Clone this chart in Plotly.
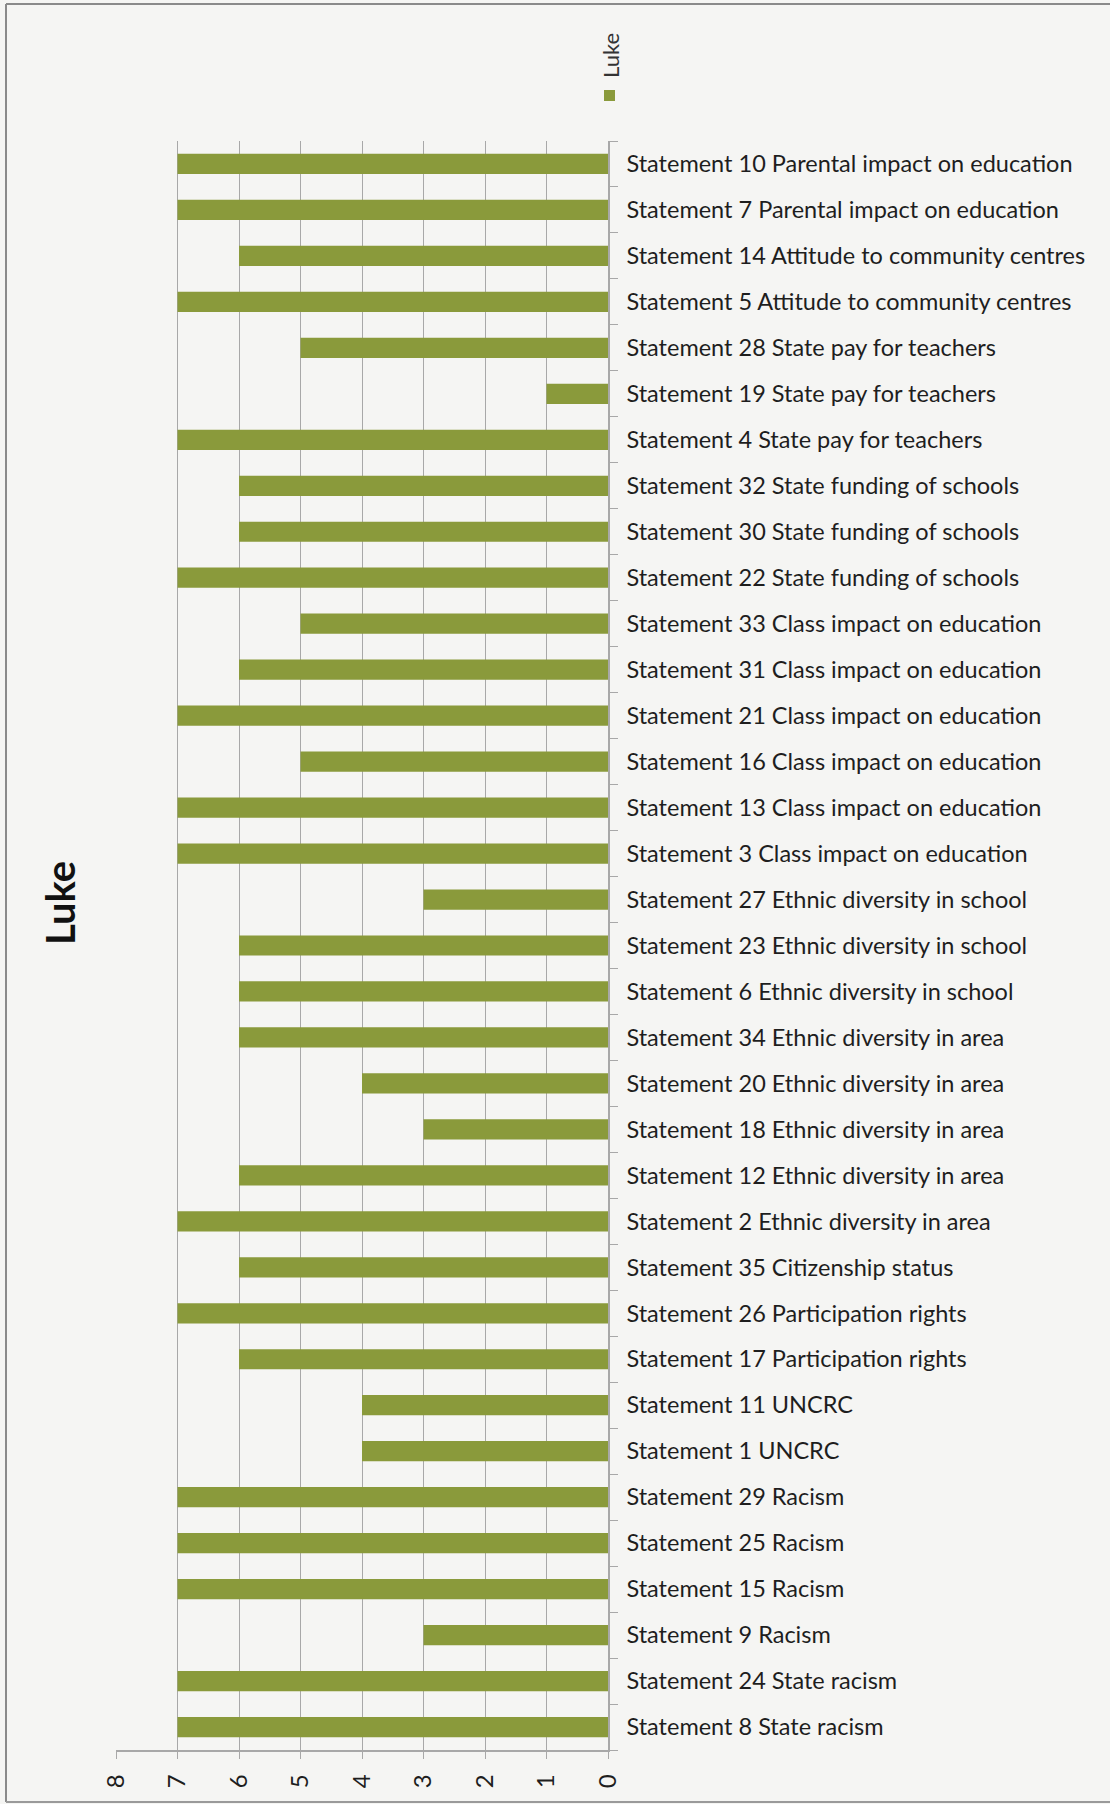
import plotly.graph_objects as go

# Statements in chart order (bottom to top) and Luke's scores
statements = [
    "Statement 8 State racism",
    "Statement 24 State racism",
    "Statement 9 Racism",
    "Statement 15 Racism",
    "Statement 25 Racism",
    "Statement 29 Racism",
    "Statement 1 UNCRC",
    "Statement 11 UNCRC",
    "Statement 17 Participation rights",
    "Statement 26 Participation rights",
    "Statement 35 Citizenship status",
    "Statement 2 Ethnic diversity in area",
    "Statement 12 Ethnic diversity in area",
    "Statement 18 Ethnic diversity in area",
    "Statement 20 Ethnic diversity in area",
    "Statement 34 Ethnic diversity in area",
    "Statement 6 Ethnic diversity in school",
    "Statement 23 Ethnic diversity in school",
    "Statement 27 Ethnic diversity in school",
    "Statement 3 Class impact on education",
    "Statement 13 Class impact on education",
    "Statement 16 Class impact on education",
    "Statement 21 Class impact on education",
    "Statement 31 Class impact on education",
    "Statement 33 Class impact on education",
    "Statement 22 State funding of schools",
    "Statement 30 State funding of schools",
    "Statement 32 State funding of schools",
    "Statement 4 State pay for teachers",
    "Statement 19 State pay for teachers",
    "Statement 28 State pay for teachers",
    "Statement 5 Attitude to community centres",
    "Statement 14 Attitude to community centres",
    "Statement 7 Parental impact on education",
    "Statement 10 Parental impact on education",
]
luke_scores = [7, 7, 3, 7, 7, 7, 4, 4, 6, 7, 6, 7, 6, 3, 4, 6, 6, 6, 3,
               7, 7, 5, 7, 6, 5, 7, 6, 6, 7, 1, 5, 7, 6, 7, 7]
value_ticks = [0, 1, 2, 3, 4, 5, 6, 7, 8]

W, H = 1110, 1804
L, R, T, B = 116, 502, 141, 54
PW, PH = W - L - R, H - T - B

BAR = "#8a9a3b"
GRID = "#a8a8a8"
TEXT = "#1e1e1e"
BG = "#f5f5f3"


def px(x):
    return (x - L) / PW


def py(y):
    return (H - B - y) / PH


fig = go.Figure(
    go.Bar(
        x=luke_scores,
        y=statements,
        orientation="h",
        marker=dict(color=BAR, line=dict(width=0)),
        name="Luke",
        showlegend=False,
    )
)

fig.update_layout(
    width=W,
    height=H,
    margin=dict(l=L, r=R, t=T, b=B),
    paper_bgcolor=BG,
    plot_bgcolor=BG,
    bargap=0.56,
    font=dict(family="Lato", color=TEXT),
    xaxis=dict(
        range=[8, 0],
        tickvals=value_ticks,
        tickangle=-90,
        tickfont=dict(size=24, color=TEXT),
        showgrid=True,
        gridcolor=GRID,
        gridwidth=1,
        showline=True,
        linecolor=GRID,
        linewidth=1.5,
        ticks="outside",
        ticklen=7,
        tickcolor=GRID,
        ticklabelstandoff=6,
        zeroline=False,
        fixedrange=True,
    ),
    yaxis=dict(
        side="right",
        categoryorder="array",
        categoryarray=statements,
        tickfont=dict(size=23.5, color=TEXT),
        showline=True,
        linecolor=GRID,
        linewidth=1.5,
        ticks="outside",
        tickson="boundaries",
        ticklen=8,
        tickcolor=GRID,
        ticklabelstandoff=12,
        showgrid=False,
        fixedrange=True,
    ),
    annotations=[
        dict(
            text="<b>Luke</b>",
            x=px(60), y=py(903), xref="paper", yref="paper",
            xanchor="center", yanchor="middle",
            showarrow=False, textangle=-90,
            font=dict(size=40, color="#111111", family="Lato"),
        ),
        dict(
            text="Luke",
            x=px(610), y=py(56), xref="paper", yref="paper",
            xanchor="center", yanchor="middle",
            showarrow=False, textangle=-90,
            font=dict(size=22, color="#333333", family="Lato"),
        ),
    ],
    shapes=[
        # legend key
        dict(type="rect", xref="paper", yref="paper",
             x0=px(604), x1=px(615), y0=py(90), y1=py(101),
             fillcolor=BAR, line=dict(width=0)),
        # page frame
        dict(type="line", xref="paper", yref="paper",
             x0=px(6), x1=px(6), y0=py(4), y1=py(1802),
             line=dict(color="#8a8a8a", width=2)),
        dict(type="line", xref="paper", yref="paper",
             x0=px(6), x1=px(1110), y0=py(4), y1=py(4),
             line=dict(color="#8a8a8a", width=2)),
        dict(type="line", xref="paper", yref="paper",
             x0=px(6), x1=px(1110), y0=py(1802), y1=py(1802),
             line=dict(color="#9a9a9a", width=2)),
    ],
)

fig.write_html("out.html")
